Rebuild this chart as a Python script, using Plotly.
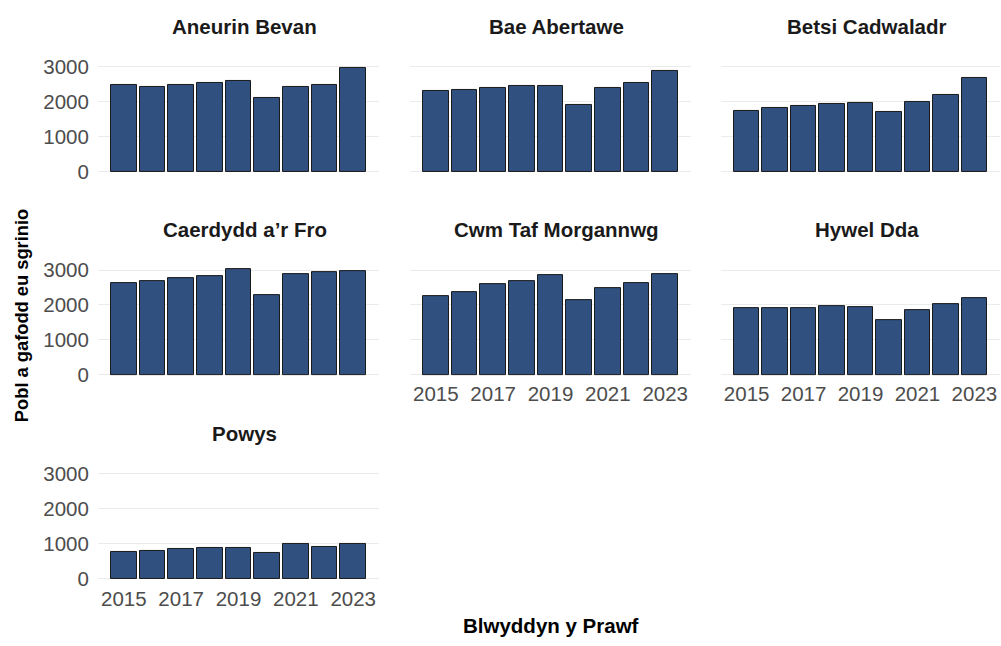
import plotly.graph_objects as go

years = [2015, 2016, 2017, 2018, 2019, 2020, 2021, 2022, 2023]
boards = ["Aneurin Bevan", "Bae Abertawe", "Betsi Cadwaladr",
          "Caerdydd a\u2019r Fro", "Cwm Taf Morgannwg", "Hywel Dda", "Powys"]

aneurin_bevan = [2480, 2420, 2495, 2550, 2605, 2120, 2420, 2495, 2960]
bae_abertawe = [2300, 2355, 2385, 2450, 2450, 1905, 2385, 2535, 2895]
betsi_cadwaladr = [1755, 1815, 1895, 1955, 1980, 1700, 2010, 2185, 2675]
caerdydd = [2625, 2680, 2765, 2820, 3020, 2280, 2890, 2945, 2965]
cwm_taf = [2250, 2365, 2590, 2680, 2850, 2140, 2475, 2625, 2890]
hywel_dda = [1905, 1905, 1905, 1960, 1930, 1555, 1845, 2035, 2185]
powys = [765, 795, 840, 880, 880, 730, 990, 925, 990]

series = [aneurin_bevan, bae_abertawe, betsi_cadwaladr, caerdydd,
          cwm_taf, hywel_dda, powys]

y_ticks = [0, 1000, 2000, 3000]
x_ticks = [2015, 2017, 2019, 2021, 2023]

W, H = 1001, 646


def px(x):
    return x / W


def py(y):
    return (H - y) / H


col_px = [(98, 379), (410, 691), (721, 1000)]
row_px = [(56, 174.4), (263, 381), (470.7, 589)]

FONT = "Liberation Sans, Arial, sans-serif"
BAR = "#30507F"

fig = go.Figure()
layout = dict(
    width=W, height=H, margin=dict(l=0, r=0, t=0, b=0),
    paper_bgcolor="white", plot_bgcolor="white",
    showlegend=False, bargap=0,
    font=dict(family=FONT, size=20, color="#4D4D4D"),
)
annotations = []

ymax = max(max(s) for s in series)
yr = [-0.05 * ymax, 1.05 * ymax]

for i, (name, vals) in enumerate(zip(boards, series)):
    r, c = divmod(i, 3)
    k = i + 1
    xa = "x" if k == 1 else f"x{k}"
    ya = "y" if k == 1 else f"y{k}"
    fig.add_trace(go.Bar(
        x=years, y=vals, width=0.9, xaxis=xa, yaxis=ya,
        marker=dict(color=BAR, line=dict(color="#1a1a1a", width=1)),
        hoverinfo="skip",
    ))
    x0, x1 = col_px[c]
    ytop, ybot = row_px[r]
    show_x = (r == 2) or (r == 1 and c > 0)
    show_y = (c == 0)
    layout["xaxis" if k == 1 else f"xaxis{k}"] = dict(
        domain=[px(x0), px(x1)], anchor=ya,
        range=[2014.1, 2023.9], tickvals=x_ticks,
        showticklabels=show_x, showgrid=False, zeroline=False,
        showline=False, ticks="",
        tickfont=dict(size=20.5, color="#4D4D4D", family=FONT),
    )
    layout["yaxis" if k == 1 else f"yaxis{k}"] = dict(
        domain=[py(ybot), py(ytop)], anchor=xa,
        range=yr, tickvals=y_ticks,
        showticklabels=show_y, showgrid=True, gridcolor="#EBEBEB",
        gridwidth=1.2, zeroline=False, showline=False,
        ticks="outside" if show_y else "", ticklen=4,
        tickcolor="rgba(0,0,0,0)",
        tickfont=dict(size=20.5, color="#4D4D4D", family=FONT),
    )
    annotations.append(dict(
        text=f"<b>{name}</b>", xref="paper", yref="paper",
        x=px((x0 + x1) / 2 + 6), y=py(ytop - 35),
        xanchor="center", yanchor="middle", showarrow=False,
        font=dict(size=20.5, color="#1A1A1A", family=FONT),
    ))

annotations.append(dict(
    text="<b>Blwyddyn y Prawf</b>", xref="paper", yref="paper",
    x=px(551), y=py(631), xanchor="center", yanchor="middle",
    showarrow=False, font=dict(size=20.5, color="black", family=FONT),
))
annotations.append(dict(
    text="<b>Pobl a gafodd eu sgrinio</b>", xref="paper", yref="paper",
    x=px(21), y=py(316), xanchor="center", yanchor="middle",
    textangle=-90, showarrow=False,
    font=dict(size=18.3, color="black", family=FONT),
))
layout["annotations"] = annotations
fig.update_layout(**layout)
fig.write_html(
    "out.html",
    config={"displayModeBar": False},
    post_script="document.body.style.margin='0';"
                "document.body.style.overflow='hidden';",
)
